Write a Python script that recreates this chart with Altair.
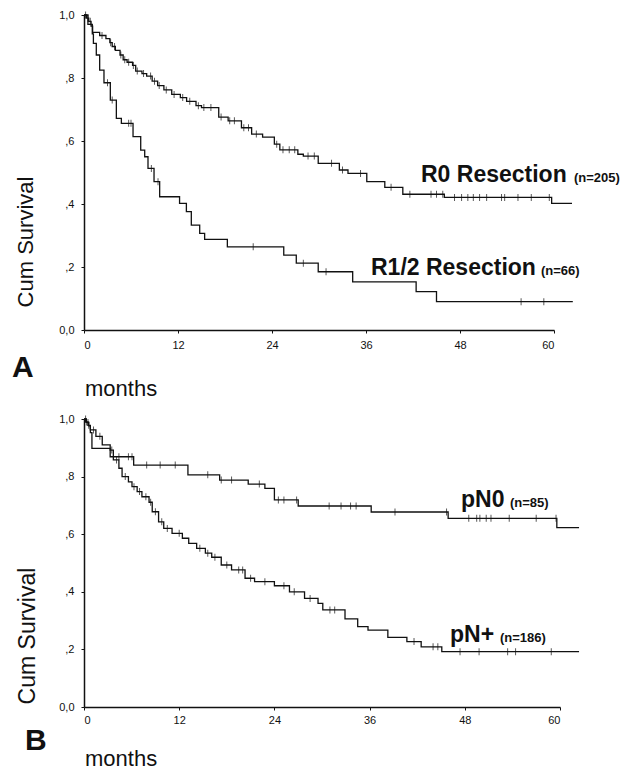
import altair as alt
import pandas as pd

# ---------------- data ----------------
r0_t = [0, 0.3, 0.6, 0.9, 1.1, 2.0, 2.8, 3.3, 3.6, 4.0, 4.6, 5.0, 5.5, 6.2, 6.6, 7.4, 8.0, 8.7, 9.4,
        10.2, 11.2, 12.3, 13.1, 14.3, 15.0, 17.2, 18.4, 20.1, 21.4, 22.8, 24.3, 25.0, 27.3, 28.0,
        29.9, 32.6, 33.7, 36.1, 38.4, 40.7, 46.0, 59.7, 62.3]
r0_s = [1.0, 0.99, 0.98, 0.965, 0.945, 0.935, 0.925, 0.912, 0.900, 0.888, 0.873, 0.858, 0.850, 0.840,
        0.822, 0.814, 0.806, 0.790, 0.776, 0.762, 0.748, 0.738, 0.726, 0.712, 0.706, 0.676, 0.664,
        0.642, 0.622, 0.612, 0.590, 0.572, 0.558, 0.552, 0.529, 0.508, 0.497, 0.471, 0.453, 0.431,
        0.421, 0.402, 0.402]
r0_cens = [0.2, 0.5, 0.8, 2.3, 3.4, 3.9, 4.7, 5.2, 5.7, 6.3, 6.8, 7.6, 8.5, 9.0, 9.6, 10.5, 11.5,
           12.6, 13.5, 14.6, 15.3, 16.2, 17.5, 18.6, 19.2, 20.4, 21.0, 22.0, 24.6, 25.4, 26.2, 26.9,
           28.6, 29.4, 31.6, 33.0, 35.3, 39.2, 41.6, 44.3, 45.0, 45.8, 47.3, 48.2, 49.0, 49.7, 50.5,
           51.4, 53.3, 53.7, 55.4, 57.1, 59.4]

r12_t = [0, 0.5, 1.06, 1.2, 1.57, 2.0, 2.55, 3.36, 4.13, 4.77, 6.26, 7.24, 7.75, 8.17, 8.94, 9.66,
         12.2, 13.07, 13.7, 14.77, 15.4, 18.3, 25.5, 27.1, 29.9, 34.3, 42.4, 45.0, 62.4]
r12_s = [1.0, 0.97, 0.94, 0.91, 0.873, 0.825, 0.785, 0.730, 0.672, 0.656, 0.614, 0.571, 0.550, 0.513,
         0.471, 0.423, 0.402, 0.376, 0.333, 0.307, 0.288, 0.264, 0.238, 0.212, 0.185, 0.153, 0.122,
         0.090, 0.090]
r12_cens = [3.0, 3.6, 5.7, 6.0, 8.6, 9.45, 21.6, 28.0, 30.9, 55.8, 58.7]

pn0_t = [0, 0.3, 0.6, 0.8, 1.0, 3.3, 6.26, 13.1, 17.1, 20.7, 22.8, 24.0, 27.0, 36.2, 45.9, 59.6, 62.4]
pn0_s = [1.0, 0.988, 0.976, 0.953, 0.898, 0.869, 0.840, 0.806, 0.788, 0.774, 0.759, 0.719, 0.698,
         0.677, 0.655, 0.623, 0.623]
pn0_cens = [0.2, 0.5, 4.4, 5.6, 6.05, 7.9, 9.6, 11.5, 15.6, 17.3, 18.6, 22.1, 24.5, 25.2, 26.8,
            30.9, 32.4, 33.6, 34.3, 39.2, 45.7, 48.5, 49.5, 49.9, 50.7, 51.3, 53.6, 57.0, 59.5]

pnp_t = [0, 0.2, 0.5, 0.8, 1.5, 2.3, 3.3, 3.7, 4.4, 4.8, 5.6, 6.05, 6.7, 7.3, 8.2, 8.6, 9.4, 10.05,
         11.1, 12.4, 13.2, 14.2, 15.3, 16.1, 17.3, 18.6, 20.3, 21.5, 24.0, 25.9, 27.8, 29.5, 30.1,
         32.9, 34.5, 35.8, 38.3, 40.7, 42.5, 45.1, 62.4]
pnp_s = [1.0, 0.99, 0.978, 0.962, 0.94, 0.910, 0.892, 0.858, 0.829, 0.800, 0.782, 0.765, 0.748,
         0.730, 0.711, 0.678, 0.643, 0.620, 0.603, 0.586, 0.568, 0.551, 0.534, 0.520, 0.493, 0.476,
         0.447, 0.435, 0.421, 0.400, 0.377, 0.360, 0.337, 0.306, 0.279, 0.267, 0.242, 0.227, 0.209,
         0.192, 0.192]
pnp_cens = [0.3, 0.6, 1.2, 2.0, 3.5, 4.1, 5.2, 6.3, 7.0, 7.8, 8.4, 9.0, 9.8, 10.5, 12.0, 14.6,
            15.6, 16.5, 18.0, 19.5, 20.0, 21.0, 22.8, 25.2, 26.5, 28.5, 31.0, 31.6, 41.6, 44.0,
            44.6, 47.4, 49.8, 53.4, 54.4, 58.9]

x_ticks = [0, 12, 24, 36, 48, 60]
y_ticks = [0, 0.2, 0.4, 0.6, 0.8, 1.0]

top_labels = ["R0 Resection", "R1/2 Resection"]
top_ns = ["(n=205)", "(n=66)"]
bot_labels = ["pN0", "pN+"]
bot_ns = ["(n=85)", "(n=186)"]
y_title = "Cum Survival"
x_title = "months"
panel_letters = ["A", "B"]

FONT = "Liberation Sans"
INK = "#111111"


def curve_df(t, s, name):
    return pd.DataFrame({"t": t, "s": s, "g": name})


def cens_df(ct, t, s, name):
    ys = []
    for c in ct:
        v = s[0]
        for ti, si in zip(t, s):
            if ti <= c:
                v = si
        ys.append(v)
    return pd.DataFrame({"t": ct, "s": ys, "g": name})


def panel(curves, cens, w, h, texts, label_offset):
    xs = alt.Scale(domain=[0, 60], nice=False)
    ys = alt.Scale(domain=[0, 1], nice=False)
    xax = alt.Axis(values=x_ticks, title=None, labelFont=FONT, labelFontSize=11, labelColor=INK,
                   domainColor=INK, domainWidth=1.5, tickColor=INK, tickSize=3, labelPadding=label_offset,
                   grid=False)
    yax = alt.Axis(values=y_ticks, title=None, labelFont=FONT, labelFontSize=11, labelColor=INK,
                   domainColor=INK, domainWidth=1.5, tickColor=INK, tickSize=3, labelPadding=7,
                   grid=False,
                   labelExpr="datum.value == 0 ? '0,0' : datum.value == 1 ? '1,0' : ',' + format(datum.value*10, 'd')")
    line = alt.Chart(curves).mark_line(interpolate="step-after", color=INK, strokeWidth=1.3).encode(
        x=alt.X("t:Q", scale=xs, axis=xax),
        y=alt.Y("s:Q", scale=ys, axis=yax),
        detail="g:N",
    )
    ticks = alt.Chart(cens).mark_tick(orient="vertical", size=7, thickness=1, color=INK).encode(
        x=alt.X("t:Q", scale=xs),
        y=alt.Y("s:Q", scale=ys),
    )
    layers = [line, ticks]
    for (txt, x, y, size, weight, angle) in texts:
        tdf = pd.DataFrame({"label": [txt]})
        if angle:
            m = alt.Chart(tdf).mark_text(font=FONT, fontSize=size, fontWeight=weight, color=INK,
                                         align="center", baseline="alphabetic", angle=angle)
        else:
            m = alt.Chart(tdf).mark_text(font=FONT, fontSize=size, fontWeight=weight, color=INK,
                                         align="left", baseline="alphabetic")
        layers.append(m.encode(text="label:N", x=alt.value(x), y=alt.value(y)))
    return alt.layer(*layers).properties(width=w, height=h)


top_curves = pd.concat([curve_df(r0_t, r0_s, "R0"), curve_df(r12_t, r12_s, "R12")])
top_cens = pd.concat([cens_df(r0_cens, r0_t, r0_s, "R0"), cens_df(r12_cens, r12_t, r12_s, "R12")])
bot_curves = pd.concat([curve_df(pn0_t, pn0_s, "pN0"), curve_df(pnp_t, pnp_s, "pN+")])
bot_cens = pd.concat([cens_df(pn0_cens, pn0_t, pn0_s, "pN0"), cens_df(pnp_cens, pnp_t, pnp_s, "pN+")])

top_texts = [
    (top_labels[0], 337, 167, 23, "bold", 0),
    (top_ns[0], 490, 167, 13, "bold", 0),
    (top_labels[1], 287, 260, 23, "bold", 0),
    (top_ns[1], 457, 260, 13, "bold", 0),
    (y_title, -51, 227, 22, "normal", 270),
    (panel_letters[0], -72, 362, 30, "bold", 0),
    (x_title, 1, 381, 22, "normal", 0),
]
bot_texts = [
    (bot_labels[0], 377, 88, 23, "bold", 0),
    (bot_ns[0], 426, 88, 13, "bold", 0),
    (bot_labels[1], 366, 223, 23, "bold", 0),
    (bot_ns[1], 416, 223, 13, "bold", 0),
    (y_title, -49, 217, 23, "normal", 270),
    (panel_letters[1], -59, 331, 30, "bold", 0),
    (x_title, 1, 347, 22, "normal", 0),
]

top = panel(top_curves, top_cens, 470, 315, top_texts, 6)
bot = panel(bot_curves, bot_cens, 476, 288, bot_texts, 4)

chart = alt.vconcat(top, bot, spacing=89, bounds="flush").properties(
    padding={"left": 4, "top": 1, "right": 5, "bottom": 0},
    background="white",
).configure_view(strokeWidth=0, stroke="transparent")

chart.save("out.html", embed_options={"renderer": "svg", "actions": False})
